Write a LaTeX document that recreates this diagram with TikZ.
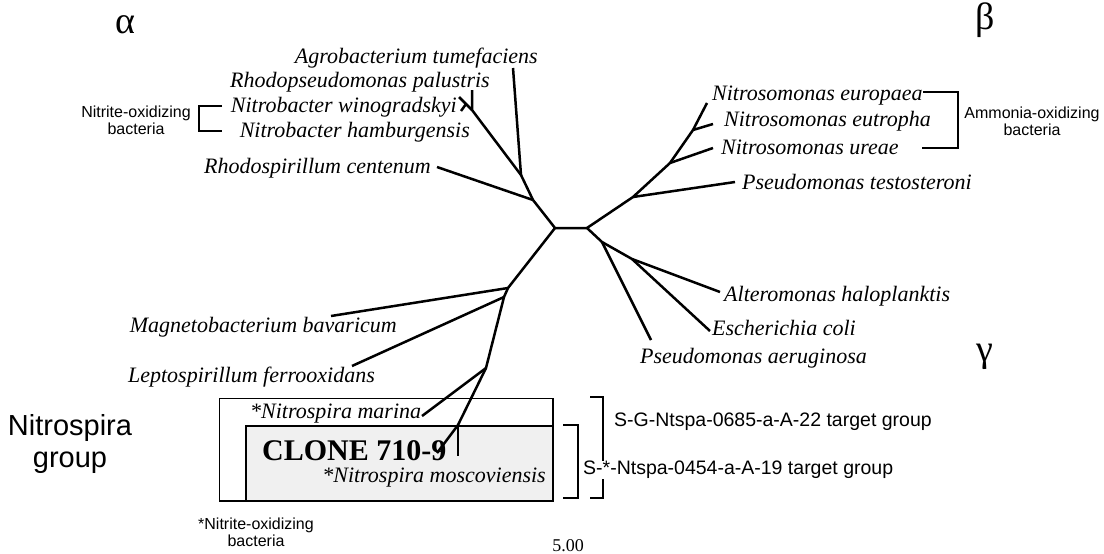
\documentclass[tikz,border=0pt]{standalone}
\usepackage{fontspec}
\setmainfont{Liberation Serif}
\setsansfont{Liberation Sans}
\begin{document}
\begin{tikzpicture}[x=1pt,y=-1pt,
  sp/.style={font=\fontsize{22}{25}\selectfont\itshape, inner sep=0pt},
  lab/.style={font=\sffamily\fontsize{16}{17}\selectfont, align=center, inner sep=0pt},
  probe/.style={font=\sffamily\fontsize{19.5}{22}\selectfont, inner sep=0pt},
  greek/.style={font=\fontsize{38}{42}\selectfont, inner sep=0pt},
  br/.style={line width=2.5pt, line join=round},
  brk/.style={line width=1.8pt},
  boxline/.style={line width=1.4pt}]
\useasboundingbox (0,0) rectangle (1104,554);
\fill[white] (0,0) rectangle (1104,554);

% Nitrospira boxes
\node[boxline, draw, anchor=north west, minimum width=333pt, minimum height=102pt, inner sep=0pt] (outer) at (219,398) {};
\node[fill=black!6, anchor=north west, minimum width=306pt, minimum height=74pt, inner sep=0pt] (inner) at (246,426) {};
\draw[line width=1.2pt] (inner.south west) -- (inner.north west) -- (inner.north east);
\draw[boxline] (outer.north east) -- (outer.south east) -- (outer.south west);

% tree coordinates
\coordinate (hL) at (555,228);
\coordinate (hR) at (587,228);
\coordinate (a1) at (533,200);
\coordinate (a2) at (521,175);
\coordinate (aN) at (472,110);
\coordinate (aW) at (466,104);
\coordinate (eAgro) at (513,68);
\coordinate (ePal) at (472,90);
\coordinate (eWin) at (459,97);
\coordinate (eHam) at (461,111);
\coordinate (eRsp) at (437,167);
\coordinate (b1) at (633,197);
\coordinate (b2) at (670,163);
\coordinate (b3) at (693,130);
\coordinate (eTes) at (735,182);
\coordinate (eUre) at (713,148);
\coordinate (eEutr) at (713,124);
\coordinate (eEur) at (707,103);
\coordinate (g1) at (602,242);
\coordinate (g2) at (632,259);
\coordinate (eAer) at (651,340);
\coordinate (eEco) at (710,331);
\coordinate (eAlt) at (720,292);
\coordinate (c1) at (508,288);
\coordinate (c2) at (504,297);
\coordinate (c3) at (486,368);
\coordinate (c4) at (458,425);
\coordinate (eMag) at (331,316);
\coordinate (eLep) at (352,366);
\coordinate (eMar) at (422,416);
\coordinate (eClo) at (437,453);
\coordinate (eMos) at (458,456);

% branches
\draw[br] (ePal) -- (aN) -- (a2) -- (a1) -- (hL) -- (hR);
\draw[br] (eAgro) -- (a2);
\draw[br] (eWin) -- (aN);
\draw[br] (aW) -- (eHam);
\draw[br] (eRsp) -- (a1);
\draw[br] (hR) -- (b1) -- (b2) -- (b3) -- (eEur);
\draw[br] (b1) -- (eTes);
\draw[br] (b2) -- (eUre);
\draw[br] (b3) -- (eEutr);
\draw[br] (hR) -- (g1) -- (g2) -- (eAlt);
\draw[br] (g1) -- (eAer);
\draw[br] (g2) -- (eEco);
\draw[br] (hL) -- (c1) -- (c2) -- (c3) -- (c4) -- (eClo);
\draw[br] (c1) -- (eMag);
\draw[br] (c2) -- (eLep);
\draw[br] (c3) -- (eMar);
\draw[br] (c4) -- (eMos);

% greek letters
\node[greek] (alpha) at (125,25) {α};
\node[greek] (beta) at (985,20) {β};
\node[greek] (gamma) at (985,357) {γ};

% alpha labels
\node[sp, anchor=east] (tAgro) at (538,58) {Agrobacterium tumefaciens};
\node[sp, anchor=east] (tPal) at (490,82) {Rhodopseudomonas palustris};
\node[sp, anchor=east] (tWin) at (457,107) {Nitrobacter winogradskyi};
\node[sp, anchor=east] (tHam) at (470,132) {Nitrobacter hamburgensis};
\node[sp, anchor=east] (tRsp) at (431,168) {Rhodospirillum centenum};
\node[lab] (nox1) at (136,120) {Nitrite-oxidizing\\bacteria};
\coordinate (lbT) at (222,106);
\coordinate (lbB) at (222,131);
\draw[brk] (lbT) -- ++(-23,0) |- (lbB);

% beta labels
\node[sp, anchor=west] (tEur) at (712,96) {Nitrosomonas europaea};
\node[sp, anchor=west] (tEutr) at (724,121) {Nitrosomonas eutropha};
\node[sp, anchor=west] (tUre) at (721,147) {Nitrosomonas ureae};
\node[sp, anchor=west] (tTes) at (742,182) {Pseudomonas testosteroni};
\coordinate (rbT) at (958,92);
\coordinate (rbB) at (922,148);
\draw[brk] (tEur.east |- rbT) -- (rbT) |- (rbB);
\node[lab] (amox) at (1032,121) {Ammonia-oxidizing\\bacteria};

% gamma labels
\node[sp, anchor=west] (tAlt) at (724,296) {Alteromonas haloplanktis};
\node[sp, anchor=west] (tEco) at (712,328) {Escherichia coli};
\node[sp, anchor=west] (tAer) at (640,358) {Pseudomonas aeruginosa};

% lower-left labels
\node[sp, anchor=east] (tMag) at (397,327) {Magnetobacterium bavaricum};
\node[sp, anchor=east] (tLep) at (375,377) {Leptospirillum ferrooxidans};

% box labels
\node[sp, anchor=west] (tMar) at (250,414) {*Nitrospira marina};
\node[font=\bfseries\fontsize{30}{34}\selectfont, inner sep=0pt, anchor=west] (tClo) at (262,451) {CLONE 710-9};
\node[sp, anchor=east] (tMos) at (546,478) {*Nitrospira moscoviensis};
\node[font=\sffamily\fontsize{29}{32}\selectfont, align=center, inner sep=0pt] (grp) at (70,444) {Nitrospira\\group};

% probe brackets
\coordinate (pbT) at (603,397);
\coordinate (pbB) at (590,498);
\draw[brk] (590,397) -- (pbT) |- (pbB);
\coordinate (qbT) at (578,425);
\coordinate (qbB) at (563,498);
\draw[brk] (563,425) -- (qbT) |- (qbB);
\node[probe, anchor=west] (pG) at (614,422) {S-G-Ntspa-0685-a-A-22 target group};
\node[probe, anchor=west, fill=white] (pS) at (583,470) {S-*-Ntspa-0454-a-A-19 target group};

% footnote and scale
\node[lab] (fn) at (256,532) {*Nitrite-oxidizing\\bacteria};
\node[font=\fontsize{18}{20}\selectfont, inner sep=0pt] (scl) at (568,546) {5.00};
\end{tikzpicture}
\end{document}
